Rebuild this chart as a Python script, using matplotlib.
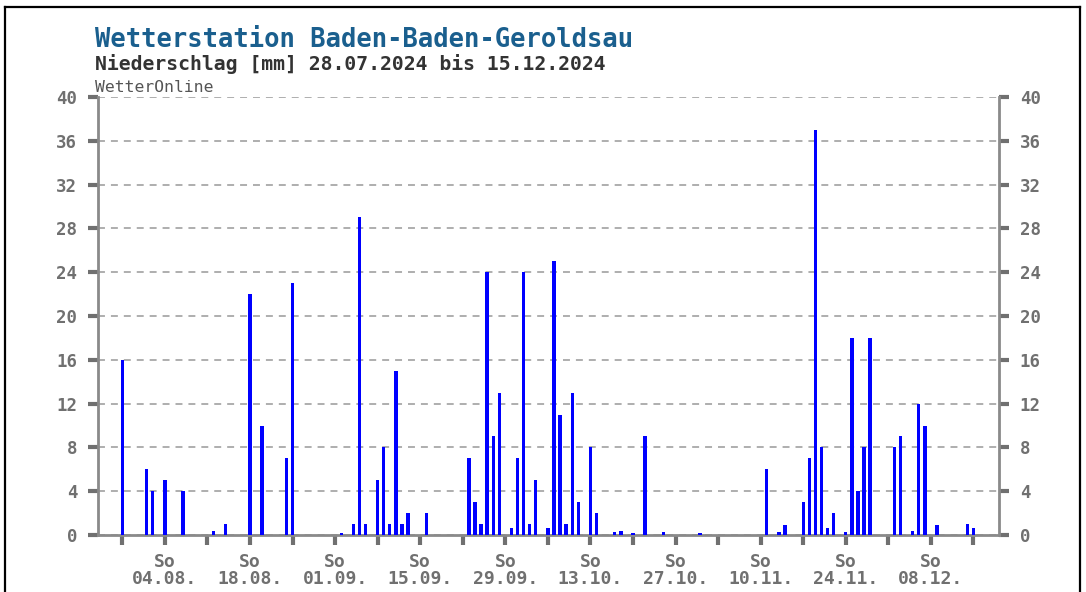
import matplotlib
matplotlib.use("Agg")
import matplotlib.pyplot as plt
from matplotlib.lines import Line2D

plt.rcParams["lines.scale_dashes"] = False

# day offsets from 28.07.2024 and daily precipitation in mm
RAIN_DAYS = [0, 4, 5, 7, 10, 15, 17, 21, 23, 27, 28,
             36, 38, 39, 40, 42, 43, 44, 45, 46, 47, 50,
             57, 58, 59, 60, 61, 62, 64, 65, 66, 67, 68,
             70, 71, 72, 73, 74, 75, 77, 78, 81, 82, 84, 86, 89, 95,
             106, 108, 109, 112, 113, 114, 115, 116, 117,
             119, 120, 121, 122, 123, 127, 128, 130, 131, 132, 134, 139, 140]
RAIN_MM = [16, 6, 4, 5, 4, 0.4, 1.0, 22, 10, 7, 23,
           0.2, 1, 29, 1, 5, 8, 1, 15, 1, 2, 2,
           7, 3, 1, 24, 9, 13, 0.6, 7, 24, 1, 5,
           0.6, 25, 11, 1, 13, 3, 8, 2, 0.3, 0.4, 0.2, 9, 0.3, 0.15,
           6, 0.3, 0.9, 3, 7, 37, 8, 0.6, 2,
           0.3, 18, 4, 8, 18, 8, 9, 0.4, 12, 10, 0.9, 1.0, 0.6]

WEEK_TICKS = list(range(0, 141, 7))
SUNDAY_LABELS = ["04.08.", "18.08.", "01.09.", "15.09.", "29.09.",
                 "13.10.", "27.10.", "10.11.", "24.11.", "08.12."]
Y_TICKS = list(range(0, 41, 4))

GRAY = "#707070"
MONO = "DejaVu Sans Mono"

fig = plt.figure(figsize=(10.86, 5.92), dpi=100)
W, H = 1086, 592

# black frame (bottom edge is cut off in the original)
for xs, ys in [((4.5, 4.5), (0, 585)), ((4.5, 1080), (585, 585)), ((1080, 1080), (585, 0))]:
    fig.add_artist(Line2D([x / W for x in xs], [y / H for y in ys],
                          color="black", linewidth=1.6))

fig.text(95 / W, 1 - 47 / H, "Wetterstation Baden-Baden-Geroldsau",
         family=MONO, fontsize=18.4, fontweight="bold", color="#1a5f8e", va="baseline")
fig.text(95 / W, 1 - 70 / H, "Niederschlag [mm] 28.07.2024 bis 15.12.2024",
         family=MONO, fontsize=14.2, fontweight="bold", color="#333333", va="baseline")
fig.text(95 / W, 1 - 92 / H, "WetterOnline",
         family=MONO, fontsize=11.8, color="#555555", va="baseline")

ax = fig.add_axes([98 / W, (H - 535) / H, (999 - 98) / W, (535 - 97) / H])
ax.bar(RAIN_DAYS, RAIN_MM, width=0.55, color="#0000ff", linewidth=0, zorder=3)

ax.set_xlim(-4.0, 144.2)
ax.set_ylim(0, 40)

ax.set_yticks(Y_TICKS)
ax.set_yticklabels([str(v) for v in Y_TICKS])
ax.yaxis.grid(True, linestyle=(0, (5, 4.3)), color="#a8a8a8", linewidth=1.3)
ax.set_axisbelow(True)

xlabels = []
for d in WEEK_TICKS:
    if d % 14 == 7:
        xlabels.append("So\n" + SUNDAY_LABELS[d // 14])
    else:
        xlabels.append("")
ax.set_xticks(WEEK_TICKS)
ax.set_xticklabels(xlabels)

ax.tick_params(axis="y", left=True, right=True, labelleft=True, labelright=True,
               length=7, width=3, color=GRAY, pad=8, labelsize=12.5, labelcolor=GRAY)
ax.tick_params(axis="x", length=7, width=3, color=GRAY, pad=6,
               labelsize=13, labelcolor=GRAY)
for t in ax.yaxis.get_major_ticks():
    for lab in (t.label1, t.label2):
        lab.set_family(MONO)
        lab.set_fontweight("bold")
for lab in ax.get_xticklabels():
    lab.set_family(MONO)
    lab.set_fontweight("bold")
    lab.set_linespacing(0.95)

ax.spines["top"].set_visible(False)
for side in ("left", "right", "bottom"):
    ax.spines[side].set_color("#8a8a8a")
    ax.spines[side].set_linewidth(2)

fig.savefig("out.png", dpi=100)
